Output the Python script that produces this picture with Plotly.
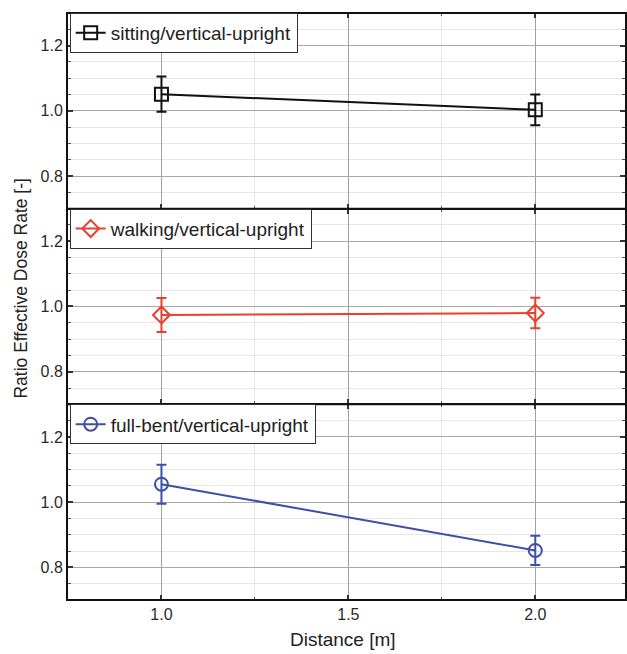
import plotly.graph_objects as go
from plotly.subplots import make_subplots

distance = [1.0, 2.0]
names = ["sitting/vertical-upright", "walking/vertical-upright", "full-bent/vertical-upright"]
sitting = [1.051, 1.003]
sitting_err = [0.054, 0.047]
walking = [0.974, 0.980]
walking_err = [0.052, 0.047]
fullbent = [1.055, 0.852]
fullbent_err = [0.060, 0.045]
y_ticks = [0.8, 1.0, 1.2]
y_ticktext = ["0.8", "1.0", "1.2"]
x_ticks = [1.0, 1.5, 2.0]
x_ticktext = ["1.0", "1.5", "2.0"]

colors = ["#111111", "#e8402f", "#3d4fa6"]
symbols = ["square-open", "diamond-open", "circle-open"]
series = [sitting, walking, fullbent]
errors = [sitting_err, walking_err, fullbent_err]

fig = make_subplots(rows=3, cols=1, shared_xaxes=True, vertical_spacing=0)

legend_names = ["legend", "legend2", "legend3"]
for i in range(3):
    fig.add_trace(go.Scatter(
        x=distance, y=series[i], name=names[i], mode="lines+markers",
        line=dict(color=colors[i], width=2),
        marker=dict(symbol=symbols[i], size=13, color=colors[i], line=dict(width=2, color=colors[i])),
        error_y=dict(type="data", array=errors[i], color=colors[i], thickness=2, width=5),
        legend=legend_names[i], showlegend=True,
    ), row=i + 1, col=1)

font = "Liberation Sans, Arial, sans-serif"
tickfont = dict(family=font, size=16, color="#2a2a2a")
for i in range(3):
    fig.update_yaxes(
        range=[0.7, 1.3], tickvals=y_ticks, ticktext=y_ticktext,
        showline=True, linecolor="#111", linewidth=2, mirror="ticks",
        ticks="inside", ticklen=5, tickwidth=2, tickcolor="#333",
        showgrid=True, gridcolor="#a8a8a8", gridwidth=1, zeroline=False,
        tickfont=tickfont,
        minor=dict(dtick=0.05, tick0=0, ticks="inside", ticklen=3, tickwidth=1, tickcolor="#555",
                   showgrid=True, gridcolor="#e6e6e6", gridwidth=1),
        row=i + 1, col=1)
    fig.update_xaxes(
        range=[0.75, 2.24], tickvals=x_ticks, ticktext=x_ticktext,
        showline=True, linecolor="#111", linewidth=1, mirror="ticks",
        ticks="inside", ticklen=5, tickwidth=2, tickcolor="#333",
        showgrid=True, gridcolor="#a0a0a0", gridwidth=1, zeroline=False,
        tickfont=tickfont, showticklabels=(i == 2),
        minor=dict(dtick=0.25, tick0=0, ticks="inside", ticklen=3, tickwidth=1, tickcolor="#555",
                   showgrid=True, gridcolor="#e6e6e6", gridwidth=1),
        row=i + 1, col=1)

# frame lines (top, between panels, bottom)
for yy in [0, 1 / 3, 2 / 3, 1]:
    fig.add_shape(type="line", xref="paper", yref="paper", x0=0, x1=1, y0=yy, y1=yy,
                  line=dict(color="#111", width=2))

fig.add_annotation(text="Distance [m]", xref="paper", yref="paper", x=0.494, y=-0.068,
                   showarrow=False, xanchor="center", yanchor="middle",
                   font=dict(family=font, size=19, color="#222"))
fig.add_annotation(text="Ratio Effective Dose Rate [-]", xref="paper", yref="paper",
                   x=(20.5 - 68) / 559, y=0.53, textangle=-90,
                   showarrow=False, xanchor="center", yanchor="middle",
                   font=dict(family=font, size=17.5, color="#222"))

leg_common = dict(x=0.003, xanchor="left", yanchor="top", bgcolor="white",
                  bordercolor="#333", borderwidth=1, font=dict(family=font, size=19, color="#222"),
                  itemwidth=30, tracegroupgap=0)
fig.update_layout(
    legend=dict(y=1.0, **leg_common),
    legend2=dict(y=2 / 3, **leg_common),
    legend3=dict(y=1 / 3, **leg_common),
)

fig.update_layout(
    width=627, height=654,
    margin=dict(l=68, r=0, t=13, b=54),
    paper_bgcolor="white", plot_bgcolor="white",
    font=dict(family=font),
)

fig.write_html("out.html", config={"displayModeBar": False},
               post_script="document.body.style.margin='0';document.body.style.overflow='hidden';")
